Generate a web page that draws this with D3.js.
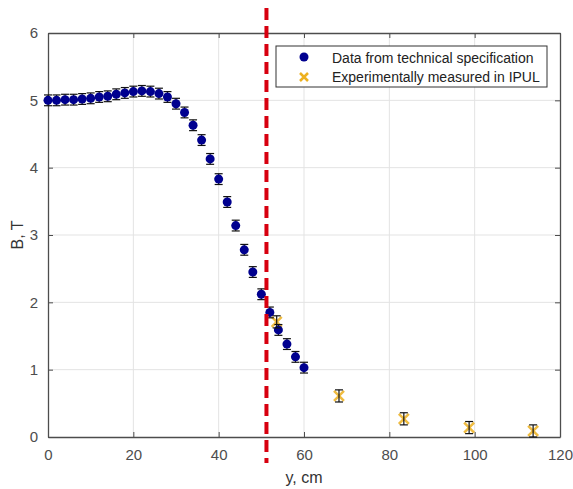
<!DOCTYPE html>
<html><head><meta charset="utf-8">
<script src="https://cdn.jsdelivr.net/npm/d3@7"></script>
<style>body{margin:0;background:#fff}svg{display:block}text{font-family:Arial,"Liberation Sans",sans-serif}</style>
</head><body><svg id="c" width="573" height="489"></svg>
<script>
const specY = [0,2,4,6,8,10,12,14,16,18,20,22,24,26,28,30,32,34,36,38,40,42,44,46,48,50,52,54,56,58,60];
const specB = [5.0,5.0,5.01,5.01,5.02,5.03,5.05,5.06,5.09,5.11,5.13,5.14,5.13,5.1,5.05,4.95,4.82,4.63,4.41,4.13,3.83,3.49,3.14,2.78,2.45,2.12,1.85,1.59,1.38,1.19,1.03];
const specErr = 0.08;
const measY = [53.6,68.2,83.4,98.7,113.7];
const measB = [1.71,0.61,0.27,0.14,0.09];
const measErr = 0.09;
const boundaryY = 51.2;
const xTicks = [0,20,40,60,80,100,120];
const yTicks = [0,1,2,3,4,5,6];
const legendLabels = ["Data from technical specification","Experimentally measured in IPUL"];

const svg = d3.select("#c");
const L=48,R=560,T=33,B=437;
const x = d3.scaleLinear().domain([0,120]).range([L,R]);
const y = d3.scaleLinear().domain([0,6]).range([B,T]);
const blue="#00008f", orange="#EDB120", grid="#e3e3e3", axc="#4d4d4d";

// grid
svg.append("g").selectAll("line").data(xTicks.slice(1,-1)).join("line")
 .attr("x1",d=>x(d)).attr("x2",d=>x(d)).attr("y1",T).attr("y2",B).attr("stroke",grid);
svg.append("g").selectAll("line").data(yTicks.slice(1,-1)).join("line")
 .attr("x1",L).attr("x2",R).attr("y1",d=>y(d)).attr("y2",d=>y(d)).attr("stroke",grid);

// axes (MATLAB box with inward ticks)
const tk=5, fmt=d3.format("d");
const gx=svg.append("g").attr("transform",`translate(0,${B})`).call(d3.axisBottom(x).tickValues(xTicks).tickFormat(fmt).tickSizeInner(-tk).tickSizeOuter(0).tickPadding(12));
const gy=svg.append("g").attr("transform",`translate(${L},0)`).call(d3.axisLeft(y).tickValues(yTicks).tickFormat(fmt).tickSizeInner(-tk).tickSizeOuter(0).tickPadding(10));
const gt=svg.append("g").attr("transform",`translate(0,${T})`).call(d3.axisTop(x).tickValues(xTicks).tickSizeInner(-tk).tickSizeOuter(0).tickFormat(""));
const gr=svg.append("g").attr("transform",`translate(${R},0)`).call(d3.axisRight(y).tickValues(yTicks).tickSizeInner(-tk).tickSizeOuter(0).tickFormat(""));
[gx,gy,gt,gr].forEach(g=>{g.selectAll(".domain").attr("stroke",axc).attr("stroke-width",1.3);g.selectAll(".tick line").attr("stroke",axc);g.selectAll("text").attr("fill","#4d4d4d").attr("font-size",15);});

// labels
svg.append("text").attr("x",x(60)).attr("y",483).attr("text-anchor","middle").attr("font-size",16).attr("fill","#333").text("y, cm");
svg.append("text").attr("transform",`translate(23,${y(3)}) rotate(-90)`).attr("text-anchor","middle").attr("font-size",16).attr("fill","#333").text("B, T");

// error bars helper
function ebars(xs,ys,e){
  const g=svg.append("g");
  const d=xs.map((v,i)=>({x:v,b:ys[i]}));
  g.selectAll("line.v").data(d).join("line").attr("x1",p=>x(p.x)).attr("x2",p=>x(p.x)).attr("y1",p=>y(p.b-e)).attr("y2",p=>y(p.b+e)).attr("stroke","#111").attr("stroke-width",1.2);
  [1,-1].forEach(s=>g.selectAll("line.c"+s).data(d).join("line").attr("x1",p=>x(p.x)-4).attr("x2",p=>x(p.x)+4).attr("y1",p=>y(p.b+s*e)).attr("y2",p=>y(p.b+s*e)).attr("stroke","#111").attr("stroke-width",1.2));
}

// measured X markers (under error bars)
const mg=svg.append("g");
measY.forEach((v,i)=>{
  const cx=x(v),cy=y(measB[i]),s=5;
  mg.append("path").attr("d",`M${cx-s},${cy-s}L${cx+s},${cy+s}M${cx-s},${cy+s}L${cx+s},${cy-s}`).attr("stroke",orange).attr("stroke-width",2.5).attr("opacity",0.85);
});

// spec points
ebars(specY,specB,specErr);
svg.append("g").selectAll("circle").data(specY.map((v,i)=>[v,specB[i]])).join("circle")
 .attr("cx",d=>x(d[0])).attr("cy",d=>y(d[1])).attr("r",4.5).attr("fill",blue);
ebars(measY,measB,measErr);

// boundary line
svg.append("line").attr("x1",x(boundaryY)).attr("x2",x(boundaryY)).attr("y1",8).attr("y2",463)
 .attr("stroke","#d7000f").attr("stroke-width",4).attr("stroke-dasharray","12,6");

// legend
const lg=svg.append("g");
lg.append("rect").attr("x",276).attr("y",46).attr("width",271).attr("height",41).attr("fill","#fff").attr("stroke","#333").attr("stroke-width",1);
lg.append("circle").attr("cx",304).attr("cy",57).attr("r",4.5).attr("fill",blue);
lg.append("path").attr("d","M300,73L308,81M300,81L308,73").attr("stroke",orange).attr("stroke-width",2.5);
legendLabels.forEach((t,i)=>lg.append("text").attr("x",332).attr("y",63+i*19).attr("font-size",14).attr("fill","#222").text(t));
</script></body></html>
